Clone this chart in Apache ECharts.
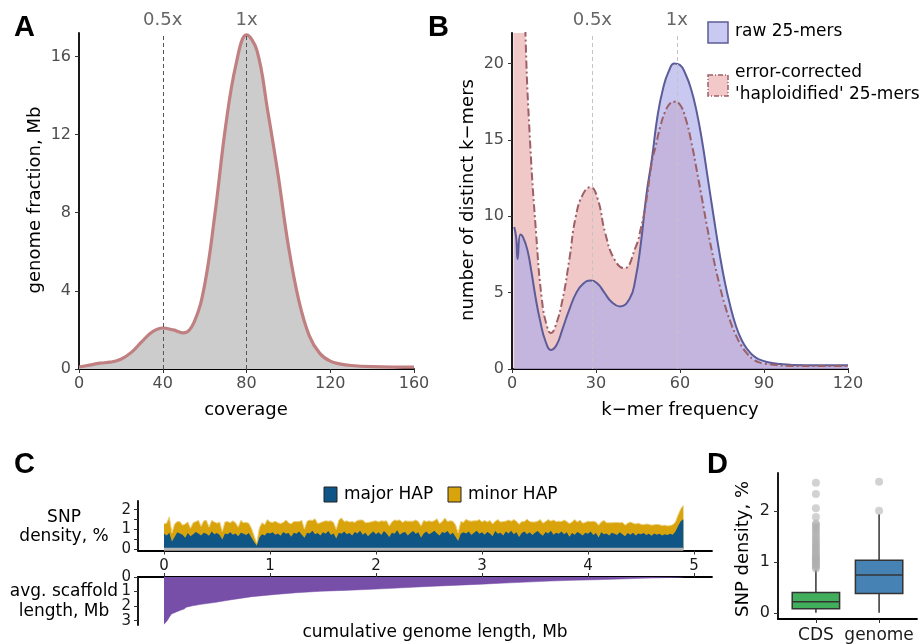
<!DOCTYPE html>
<html><head><meta charset="utf-8">
<script src="https://cdn.jsdelivr.net/npm/echarts@6/dist/echarts.min.js"></script>
<style>html,body{margin:0;padding:0;background:#fff}#c{width:921px;height:644px}</style>
</head><body><div id="c"></div>
<script>
const FONT = 'DejaVu Sans';

// ---------- Panel A ----------
const coverage = [0,5,10,15,20,25,30,35,40,45,50,55,60,65,70,75,80,85,90,95,100,105,110,115,120,125,130,140,150,160];
const genomeFraction = [0.1,0.2,0.3,0.35,0.5,0.85,1.4,1.9,2.1,2.0,1.85,2.4,4.3,8.0,12.4,15.6,17.1,16.3,13.3,10.0,6.3,3.5,1.7,0.8,0.4,0.25,0.18,0.12,0.1,0.1];
const coverageTicks = [0,40,80,120,160];
const fractionTicks = [0,4,8,12,16];
const refA = [40,80];
const refLabels = ['0.5x','1x'];

// ---------- Panel B ----------
const rawFreq  = [0.8,1.5,2,3,4,5.5,7,8.5,10,12,14,16,18,20.5,23,25.5,28,30.5,33,35.5,38.5,42,44,46,48,50,52,54,56,58,60,62,64,66,68,70,72,74,76,78,80,82,84,86,88,92,96,100,110,120];
const rawCount = [9.3,8.6,7.2,8.8,8.6,7.8,6.3,4.6,3.2,1.8,1.25,1.6,2.6,3.9,5.0,5.6,5.8,5.6,5.0,4.4,4.1,4.6,5.8,8.2,11.4,13.8,16.6,18.4,19.5,20.0,19.9,19.3,18.3,16.8,14.8,12.4,10.0,7.7,5.7,4.1,2.8,1.9,1.3,0.9,0.65,0.42,0.32,0.27,0.25,0.25];
const corrFreq  = [0.5,2,3.5,4.8,6.3,8.6,10.7,12.5,13.9,15.5,18,20.5,22.8,25.5,28,30.5,33.3,36.5,40,44.2,46,47.6,50,51.2,53,54.8,56.5,58,60,62,64,66,68,70,72,74,76,78,80,82,84,86,88,90,100,110,120];
const corrCount = [60,45,32,22,15.4,8.9,4.5,2.8,2.35,2.8,4.5,7.2,10,11.5,11.9,11.2,8.9,7.2,6.6,8.0,9.2,10.6,13.6,14.5,15.9,16.9,17.4,17.5,17.3,16.4,14.9,13.0,11.0,9.0,7.2,5.6,4.2,3.1,2.2,1.5,1.0,0.65,0.45,0.35,0.2,0.2,0.2];
const freqTicks = [0,30,60,90,120];
const countTicks = [0,5,10,15,20];
const refB = [28.7,58.9];
const legendB = ['raw 25-mers','error-corrected',"'haploidified' 25-mers"];

// ---------- Panel C ----------
const snpStep = 0.025; // Mb between windows
const majorHap = [0.78,0.70,0.84,0.40,0.62,0.86,0.80,0.74,0.58,0.82,
0.66,0.76,0.88,0.80,0.70,0.84,0.78,0.68,0.90,0.76,
0.82,0.72,0.50,0.80,0.76,0.86,0.74,0.80,0.66,0.84,
0.78,0.72,0.82,0.60,0.38,0.18,0.60,0.76,0.70,0.84,
0.80,0.86,0.74,0.80,0.68,0.88,0.78,0.82,0.64,0.84,
0.78,0.90,0.74,0.58,0.84,0.80,0.94,0.76,0.82,0.70,
0.86,0.78,0.92,0.72,0.80,0.55,0.84,0.78,0.90,0.76,
0.82,0.70,0.88,0.80,0.94,0.74,0.84,0.66,0.80,0.90,
0.76,0.86,0.72,0.92,0.80,0.62,0.84,0.78,0.96,0.74,
0.84,0.88,0.70,0.82,0.92,0.78,0.86,0.58,0.80,0.90,
0.76,0.84,0.94,0.80,0.70,0.88,0.82,0.92,0.74,0.84,
0.64,0.42,0.78,0.86,0.80,0.90,0.72,0.84,0.94,0.78,
0.86,0.74,0.88,0.80,0.66,0.92,0.78,0.84,0.70,0.90,
0.80,0.94,0.76,0.86,0.62,0.82,0.90,0.76,0.86,0.72,
0.84,0.92,0.78,0.68,0.88,0.80,0.94,0.74,0.84,0.78,
0.90,0.76,0.86,0.64,0.82,0.74,0.88,0.80,0.70,0.84,
0.78,0.90,0.72,0.82,0.60,0.86,0.76,0.80,0.70,0.84,
0.78,0.72,0.86,0.76,0.66,0.82,0.74,0.84,0.70,0.80,
0.76,0.82,0.72,0.78,0.68,0.80,0.74,0.78,0.70,0.76,
0.72,0.78,0.74,0.90,1.18,1.42,1.52];
const minorHap = [0.50,0.62,0.80,0.42,0.66,0.54,0.60,0.48,0.70,0.56,
0.40,0.58,0.52,0.66,0.46,0.60,0.68,0.44,0.56,0.62,
0.50,0.66,0.40,0.58,0.64,0.48,0.70,0.54,0.46,0.62,
0.56,0.64,0.50,0.46,0.30,0.12,0.48,0.58,0.54,0.66,
0.58,0.50,0.68,0.54,0.62,0.48,0.70,0.52,0.64,0.56,
0.62,0.50,0.72,0.44,0.58,0.68,0.52,0.78,0.48,0.64,
0.54,0.66,0.50,0.72,0.56,0.46,0.64,0.80,0.50,0.68,
0.56,0.70,0.48,0.66,0.54,0.74,0.50,0.70,0.58,0.52,
0.68,0.52,0.72,0.50,0.64,0.56,0.54,0.70,0.50,0.74,
0.52,0.56,0.72,0.60,0.50,0.70,0.54,0.60,0.66,0.50,
0.68,0.56,0.50,0.74,0.60,0.52,0.76,0.48,0.70,0.58,
0.60,0.40,0.62,0.50,0.72,0.54,0.70,0.60,0.50,0.72,
0.52,0.72,0.50,0.66,0.62,0.50,0.72,0.54,0.70,0.52,
0.68,0.48,0.74,0.56,0.64,0.58,0.50,0.76,0.54,0.66,
0.54,0.50,0.72,0.64,0.52,0.70,0.48,0.74,0.56,0.64,
0.50,0.72,0.54,0.66,0.56,0.76,0.50,0.68,0.62,0.52,
0.64,0.50,0.70,0.56,0.62,0.52,0.70,0.54,0.64,0.50,
0.58,0.64,0.48,0.60,0.56,0.50,0.64,0.48,0.58,0.52,
0.50,0.42,0.56,0.48,0.54,0.44,0.52,0.46,0.50,0.46,
0.46,0.42,0.50,0.48,0.55,0.62,0.70];
const genomeTicks = [0,1,2,3,4,5];
const snpTicks = [0,0.5,1,1.5,2];
const snpLabels = [0,1,2];
const scaffoldPos = [0,0.01,0.03,0.056,0.07,0.1,0.15,0.19,0.21,0.27,0.35,0.49,0.62,0.83,1.05,1.25,1.48,1.7,1.91,2.15,2.35,2.55,2.78,3.0,3.21,3.42,3.64,3.85,4.07,4.3,4.5,4.7,4.85,4.9];
const scaffoldLen = [3.25,3.15,3.0,2.7,2.55,2.45,2.3,2.2,2.08,1.98,1.88,1.74,1.58,1.35,1.2,1.08,0.98,0.92,0.86,0.78,0.7,0.63,0.56,0.49,0.42,0.35,0.28,0.23,0.19,0.14,0.09,0.05,0.02,0.0];
const scaffoldTicks = [0,1,2,3];
const scaffoldLabelsA = [0,2];
const scaffoldLabelsB = [1,3];
const legendC = ['major HAP','minor HAP'];

// ---------- Panel D ----------
const boxCategories = ['CDS','genome'];
const boxLow    = [0.0, 0.0];
const boxQ1     = [0.08, 0.38];
const boxMedian = [0.22, 0.74];
const boxQ3     = [0.40, 1.03];
const boxHigh   = [0.85, 1.93];
const cdsOutliers = [0.87,0.9,0.93,0.95,0.98,1.0,1.03,1.05,1.08,1.1,1.13,1.16,1.2,1.23,1.27,1.3,1.34,1.38,1.42,1.46,1.5,1.55,1.6,1.64,1.68,1.72,1.75,1.88,2.05,2.33,2.55];
const genomeOutliers = [2.0,2.57];
const densityTicks = [0,1,2];
const boxColors = ['#41ae5c','#4682b4'];

// ---------- helpers ----------
const AX = {color:'#000', width:1.8};
function xAx(grid, min, max, ticks, labels, opt) {
  opt = opt || {};
  return Object.assign({
    gridIndex: grid, type:'value', min, max,
    axisLine:{show:true, onZero:false, lineStyle:AX},
    axisTick:{show:true, customValues:ticks, length:4, lineStyle:{color:'#333', width:1}},
    axisLabel:{show: labels !== null, customValues: labels || ticks, fontSize: opt.fs || 16, color: opt.lc || '#4d4d4d', fontFamily:FONT, margin: opt.margin || 7, formatter: opt.fmt, hideOverlap:false, showMinLabel:true, showMaxLabel:true},
    splitLine:{show:false}
  }, opt.extra || {});
}
function yAx(grid, min, max, ticks, labels, opt) {
  opt = opt || {};
  return Object.assign({
    gridIndex: grid, type:'value', min, max, position:'left', offset:0,
    axisLine:{show: !opt.noLine, onZero:false, lineStyle:AX},
    axisTick:{show: !opt.noLine, customValues:ticks, length:4, lineStyle:{color:'#333', width:1}},
    axisLabel:{show:true, customValues: labels || ticks, fontSize: opt.fs || 16, color: opt.lc || '#4d4d4d', fontFamily:FONT, margin: opt.margin || 8, hideOverlap:false, showMinLabel:true, showMaxLabel:true},
    splitLine:{show:false}
  }, opt.extra || {});
}
function txt(text, x, y, o) {
  o = o || {};
  return {type:'text', x, y, rotation:o.rot||0, z:100, style:{text, fill:o.fill||'#000',
    font:(o.weight||'normal')+' '+(o.size||18)+'px "'+(o.family||FONT)+'"', align:o.align||'center', verticalAlign:'middle'}};
}

const snpPos = majorHap.map((_, i) => +(i * snpStep).toFixed(3));
const snpTotal = majorHap.map((v, i) => v + minorHap[i]);

const chart = echarts.init(document.getElementById('c'), null, {renderer:'canvas'});
chart.setOption({
  animation:false,
  backgroundColor:'#fff',
  grid:[
    {left:79, top:33, width:335, height:336},
    {left:512, top:33, width:336, height:336},
    {left:138, top:501, width:574, height:49.5},
    {left:138, top:577, width:574, height:48},
    {left:778, top:473, width:139, height:150}
  ],
  xAxis:[
    xAx(0, 0, 160, coverageTicks),
    xAx(1, 0, 120, freqTicks),
    xAx(2, -0.2453, 5.17, genomeTicks, genomeTicks, {fs:15, lc:'#1a1a1a', margin:8}),
    xAx(3, -0.2453, 5.17, genomeTicks, null, {extra:{position:'top'}}),
    xAx(4, 0.4, 2.6, [1,2], [1,2], {fs:17, lc:'#1a1a1a', margin:8, fmt: v => boxCategories[Math.round(v)-1]})
  ],
  yAxis:[
    yAx(0, 0, 17.2, fractionTicks),
    yAx(1, 0, 22, countTicks),
    yAx(2, -0.06, 2.44, snpTicks, snpLabels, {fs:15, lc:'#1a1a1a', margin:7}),
    yAx(3, 0, 3.3, scaffoldTicks, scaffoldLabelsA, {fs:15, lc:'#1a1a1a', margin:7, extra:{inverse:true}}),
    yAx(4, -0.12, 2.74, densityTicks, densityTicks, {fs:16, lc:'#1a1a1a', margin:8}),
    yAx(3, 0, 3.3, scaffoldTicks, scaffoldLabelsB, {fs:15, lc:'#1a1a1a', margin:7, noLine:true, extra:{inverse:true}})
  ],
  series:[
    // A
    {type:'line', xAxisIndex:0, yAxisIndex:0, data: coverage.map((c,i)=>[c, genomeFraction[i]]),
     smooth:0.4, showSymbol:false, lineStyle:{color:'#c07f80', width:3.2}, areaStyle:{color:'#cccccc', opacity:1},
     markLine:{silent:true, symbol:'none', lineStyle:{type:[4,3], color:'#555', width:1},
       label:{show:true, position:'end', formatter:'{b}', color:'#666', fontSize:18, fontFamily:FONT, distance:4},
       data: refA.map((v,i)=>({xAxis:v, name:refLabels[i]}))}},
    // B corrected (area)
    {type:'line', xAxisIndex:1, yAxisIndex:1, data: corrFreq.map((f,i)=>[f, corrCount[i]]),
     smooth:0.5, showSymbol:false, clip:true, z:2,
     lineStyle:{width:0}, areaStyle:{color:'rgba(232,163,163,0.6)', opacity:1}},
    // B raw
    {type:'line', xAxisIndex:1, yAxisIndex:1, data: rawFreq.map((f,i)=>[f, rawCount[i]]),
     smooth:0.5, showSymbol:false, clip:true, z:3,
     lineStyle:{color:'#5c5c98', width:2}, areaStyle:{color:'rgba(170,170,232,0.65)', opacity:1},
     markLine:{silent:true, symbol:'none', lineStyle:{type:[4,3], color:'#c4c4c4', width:1},
       label:{show:true, position:'end', formatter:'{b}', color:'#666', fontSize:18, fontFamily:FONT, distance:4},
       data: refB.map((v,i)=>({xAxis:v, name:refLabels[i]}))}},
    // B corrected (outline on top)
    {type:'line', xAxisIndex:1, yAxisIndex:1, data: corrFreq.map((f,i)=>[f, corrCount[i]]),
     smooth:0.5, showSymbol:false, clip:true, z:4,
     lineStyle:{color:'#9c6066', width:2, type:[8,3,2,3]}},
    // C baseline strip
    {type:'line', xAxisIndex:2, yAxisIndex:2, data:[[snpPos[0],0],[snpPos[snpPos.length-1],0]], showSymbol:false,
     lineStyle:{color:'#b5b5b5', width:3}, z:5},
    // C minor (drawn as total) and major
    {type:'line', name:legendC[1], xAxisIndex:2, yAxisIndex:2, data: snpPos.map((p,i)=>[p, snpTotal[i]]),
     showSymbol:false, lineStyle:{width:1, color:'#ecd07c'}, areaStyle:{color:'#d9a30c', opacity:1}, z:2},
    {type:'line', name:legendC[0], xAxisIndex:2, yAxisIndex:2, data: snpPos.map((p,i)=>[p, majorHap[i]]),
     showSymbol:false, lineStyle:{width:0}, areaStyle:{color:'#0f5687', opacity:1}, z:3},
    // C scaffold
    {type:'line', xAxisIndex:3, yAxisIndex:3, data: scaffoldPos.map((p,i)=>[p, scaffoldLen[i]]),
     showSymbol:false, lineStyle:{width:0.5, color:'#774fa9'}, areaStyle:{color:'#774fa9', opacity:1}},
    // D boxes
    {type:'custom', xAxisIndex:4, yAxisIndex:4,
     data: boxCategories.map((c,i)=>[i+1, boxLow[i], boxQ1[i], boxMedian[i], boxQ3[i], boxHigh[i]]),
     renderItem(params, api){
       const x = api.value(0);
       const pLo = api.coord([x, api.value(1)]), pQ1 = api.coord([x, api.value(2)]),
             pMd = api.coord([x, api.value(3)]), pQ3 = api.coord([x, api.value(4)]), pHi = api.coord([x, api.value(5)]);
       const hw = api.size([0.75, 0])[0] / 2;
       const st = {stroke:'#333', lineWidth:1.5};
       return {type:'group', children:[
         {type:'line', shape:{x1:pLo[0], y1:pLo[1], x2:pQ1[0], y2:pQ1[1]}, style:st},
         {type:'line', shape:{x1:pQ3[0], y1:pQ3[1], x2:pHi[0], y2:pHi[1]}, style:st},
         {type:'rect', shape:{x:pQ1[0]-hw, y:pQ3[1], width:2*hw, height:pQ1[1]-pQ3[1]}, style:{fill:boxColors[params.dataIndex], stroke:'#333', lineWidth:1.5}},
         {type:'line', shape:{x1:pMd[0]-hw, y1:pMd[1], x2:pMd[0]+hw, y2:pMd[1]}, style:st}
       ]};
     }},
    // D outliers
    {type:'scatter', xAxisIndex:4, yAxisIndex:4,
     data: cdsOutliers.map(v=>[1,v]).concat(genomeOutliers.map(v=>[2,v])),
     symbolSize:8, itemStyle:{color:'rgba(175,175,175,0.7)'}}
  ],
  graphic:[
    txt('A', 14, 28, {size:29, weight:'bold', family:'Liberation Sans', align:'left'}),
    txt('B', 428, 28, {size:29, weight:'bold', family:'Liberation Sans', align:'left'}),
    txt('C', 14, 465, {size:29, weight:'bold', family:'Liberation Sans', align:'left'}),
    txt('D', 707, 465, {size:29, weight:'bold', family:'Liberation Sans', align:'left'}),
    txt('genome fraction, Mb', 35, 200, {rot:Math.PI/2}),
    txt('coverage', 246, 410),
    txt('number of distinct k\u2212mers', 468, 200, {rot:Math.PI/2}),
    txt('k\u2212mer frequency', 680, 410),
    // legend B
    {type:'rect', shape:{x:708, y:22, width:20, height:21}, style:{fill:'#c9c9f1', stroke:'#5c5c98', lineWidth:1.5}},
    txt(legendB[0], 735, 32, {size:17, align:'left'}),
    {type:'rect', shape:{x:708, y:75, width:20, height:21}, style:{fill:'#f2c8c8', stroke:'#9c6066', lineWidth:1.5, lineDash:[5,2,1,2]}},
    txt(legendB[1], 735, 73, {size:17, align:'left'}),
    txt(legendB[2], 735, 95, {size:17, align:'left'}),
    // C labels
    {type:'rect', shape:{x:324, y:487, width:13, height:15}, style:{fill:'#0f5687', stroke:'#222', lineWidth:1}},
    txt(legendC[0], 344, 495, {size:17, align:'left'}),
    {type:'rect', shape:{x:448, y:487, width:13, height:15}, style:{fill:'#d9a30c', stroke:'#222', lineWidth:1}},
    txt(legendC[1], 468, 495, {size:17, align:'left'}),
    txt('SNP', 64, 518, {size:17}),
    txt('density, %', 64, 537, {size:17}),
    txt('avg. scaffold', 64, 592, {size:17}),
    txt('length, Mb', 64, 612, {size:17}),
    txt('cumulative genome length, Mb', 435, 633, {size:17}),
    txt('SNP density, %', 743, 549, {size:18, rot:Math.PI/2})
  ]
});
</script></body></html>
